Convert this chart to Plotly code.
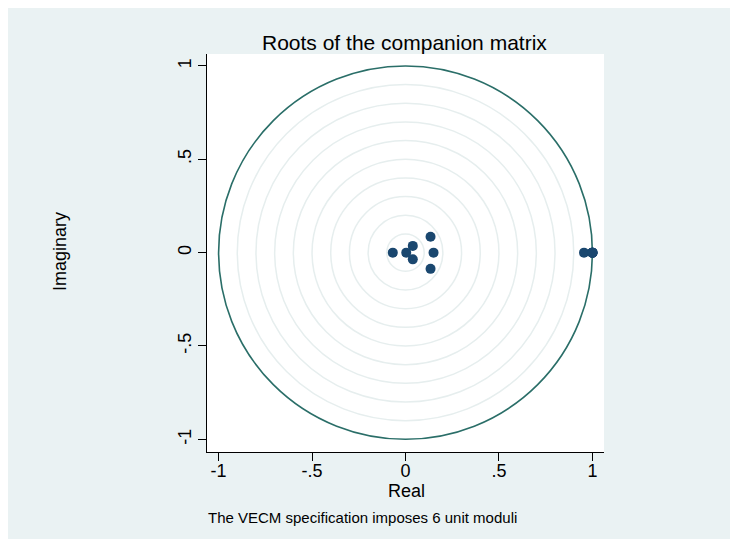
import plotly.graph_objects as go

# Data: eigenvalues of the companion matrix (real, imaginary)
root_real = [-0.068, 0.004, 0.039, 0.039, 0.134, 0.134, 0.150, 0.955, 1.0, 1.0, 1.0, 1.0, 1.0, 1.0]
root_imag = [0.0, 0.0, 0.036, -0.036, 0.085, -0.087, 0.0, 0.0, 0.0, 0.0, 0.0, 0.0, 0.0, 0.0]
grid_radii = [0.1, 0.2, 0.3, 0.4, 0.5, 0.6, 0.7, 0.8, 0.9]
unit_radius = 1.0
tick_vals = [-1, -0.5, 0, 0.5, 1]
tick_text = ["-1", "-.5", "0", ".5", "1"]

W, H = 738, 539
OFF = 8  # page body margin
L, T = 207 - OFF, 54 - OFF
pw, ph = 397, 398
R, B = W - L - pw, H - T - ph

def px2x(px):
    return (px - OFF - L) / pw

def py2y(py):
    return (T + ph - (py - OFF)) / ph

FONT = "Liberation Sans, Arial, sans-serif"
NAVY = "#1a476f"

fig = go.Figure()
fig.add_trace(go.Scatter(
    x=root_real, y=root_imag, mode="markers",
    marker=dict(color=NAVY, size=10, line=dict(width=0)),
    showlegend=False, hoverinfo="x+y", cliponaxis=False,
))

shapes = []
for r in grid_radii:
    shapes.append(dict(type="circle", xref="x", yref="y", x0=-r, x1=r, y0=-r, y1=r,
                       line=dict(color="#e6eeee", width=1.5), layer="below"))
shapes.append(dict(type="circle", xref="x", yref="y", x0=-unit_radius, x1=unit_radius,
                   y0=-unit_radius, y1=unit_radius,
                   line=dict(color="#2a6e68", width=1.6), layer="below"))

annotations = [
    dict(text="Roots of the companion matrix", x=px2x(404), y=py2y(42), xref="paper", yref="paper",
         xanchor="center", yanchor="middle", showarrow=False, font=dict(size=21, color="black", family=FONT)),
    dict(text="Real", x=px2x(406), y=py2y(491), xref="paper", yref="paper",
         xanchor="center", yanchor="middle", showarrow=False, font=dict(size=18, color="black", family=FONT)),
    dict(text="Imaginary", x=px2x(60), y=py2y(252), xref="paper", yref="paper", textangle=-90,
         xanchor="center", yanchor="middle", showarrow=False, font=dict(size=18, color="black", family=FONT)),
    dict(text="The VECM specification imposes 6 unit moduli", x=px2x(362), y=py2y(517),
         xref="paper", yref="paper", xanchor="center", yanchor="middle", showarrow=False,
         font=dict(size=15, color="black", family=FONT)),
]

axis_common = dict(
    tickvals=tick_vals, ticktext=tick_text, ticks="outside", ticklen=8, tickwidth=1,
    tickcolor="black", showline=True, linecolor="black", linewidth=1, mirror=False,
    showgrid=False, zeroline=False, tickfont=dict(size=18, color="black", family=FONT),
)

fig.update_layout(
    width=W, height=H,
    margin=dict(l=L, r=R, t=T, b=B, pad=0),
    paper_bgcolor="#eaf2f3", plot_bgcolor="white",
    xaxis=dict(range=[-1.062, 1.062], ticklabelstandoff=-6, **axis_common),
    yaxis=dict(range=[-1.068, 1.064], tickangle=-90, **axis_common),
    shapes=shapes, annotations=annotations,
    font=dict(family=FONT, color="black"),
)

fig.write_html("out.html")
